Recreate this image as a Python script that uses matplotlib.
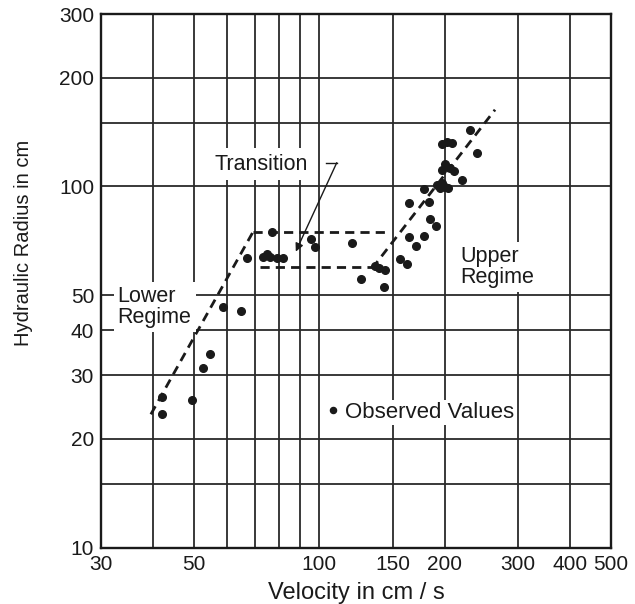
import matplotlib
matplotlib.use("Agg")
import matplotlib.pyplot as plt
from matplotlib.ticker import FixedLocator, FixedFormatter, NullLocator

plt.rcParams['font.family'] = ['Liberation Sans', 'DejaVu Sans']

# Observed values (velocity cm/s, hydraulic radius cm)
velocity = [41.9, 41.9, 49.5, 52.6, 54.8, 58.9, 65.0, 67.1, 77.0, 73.5,
            74.9, 76.3, 79.1, 82.0, 95.6, 97.7, 119.7, 126.0, 136.1, 139.4,
            143.9, 143.3, 156.2, 162.7, 164.5, 170.7, 178.7, 164.5, 184.4, 190.6,
            178.7, 183.4, 191.4, 196.7, 200.3, 204.0, 194.9, 219.7, 196.7, 200.3,
            206.0, 210.5, 196.7, 202.2, 207.9, 230.0, 238.6]
radius = [23.4, 26.2, 25.6, 31.4, 34.3, 46.3, 45.2, 63.2, 74.7, 63.9,
          64.9, 63.6, 63.2, 63.2, 71.4, 67.8, 69.6, 55.4, 60.2, 59.3,
          58.7, 52.8, 62.8, 61.0, 72.3, 68.5, 72.9, 89.8, 81.1, 77.9,
          98.2, 90.7, 100.9, 102.0, 99.4, 98.8, 98.8, 104.1, 111.0, 115.3,
          112.2, 110.5, 130.8, 133.0, 132.1, 143.2, 124.0]

# Regime boundaries
lower_v = [39.5, 69.5]
lower_r = [23.4, 75.0]
trans_top_v = [69.5, 148.0]
trans_top_r = [75.0, 75.0]
trans_bot_v = [72.0, 135.0]
trans_bot_r = [60.0, 60.0]
upper_v = [134.0, 264.0]
upper_r = [59.3, 163.0]

# Axis ticks / grid
x_ticks = [30, 40, 50, 60, 70, 80, 90, 100, 150, 200, 300, 400, 500]
x_labels = ['30', '', '50', '', '', '', '', '100', '150', '200', '300', '400', '500']
y_ticks = [10, 15, 20, 30, 40, 50, 100, 150, 200, 300]
y_labels = ['10', '', '20', '30', '40', '50', '100', '', '200', '300']

ink = '#1a1a1a'

fig = plt.figure(figsize=(6.35, 6.04), dpi=100)
ax = fig.add_axes([0.1591, 0.0932, 0.8027, 0.8836])
ax.set_xscale('log')
ax.set_yscale('log')
ax.set_xlim(30, 500)
ax.set_ylim(10, 300)

ax.xaxis.set_major_locator(FixedLocator(x_ticks))
ax.xaxis.set_major_formatter(FixedFormatter(x_labels))
ax.yaxis.set_major_locator(FixedLocator(y_ticks))
ax.yaxis.set_major_formatter(FixedFormatter(y_labels))
ax.xaxis.set_minor_locator(NullLocator())
ax.yaxis.set_minor_locator(NullLocator())
ax.tick_params(length=0, labelsize=15, colors=ink, pad=5)

ax.set_axisbelow(True)
ax.grid(True, color='#2a2a2a', lw=1.3)
for s in ax.spines.values():
    s.set_linewidth(1.7)
    s.set_color(ink)

# Dashed regime lines
dash = dict(color=ink, lw=2, dashes=(3.3, 2.2))
ax.plot(lower_v, lower_r, **dash)
ax.plot(trans_top_v, trans_top_r, **dash)
ax.plot(trans_bot_v, trans_bot_r, **dash)
ax.plot(upper_v, upper_r, **dash)

# Observed points
ax.plot(velocity, radius, 'o', color=ink, ms=5.5, zorder=4, label='Observed Values')

# Labels
box = dict(facecolor='white', edgecolor='none', pad=3)
ax.text(32.9, 46.4, 'Lower\nRegime', fontsize=15.5, color=ink, ha='left', va='center',
        linespacing=1.0, bbox=box)
ax.text(217.6, 59.8, 'Upper\nRegime', fontsize=15.5, color=ink, ha='left', va='center',
        linespacing=1.0, bbox=box)
ax.text(72.8, 115.3, 'Transition', fontsize=15.5, color=ink, ha='center', va='center',
        bbox=dict(facecolor='white', edgecolor='none', pad=4))
ax.plot([103.9, 110.2], [116.3, 116.3], color=ink, lw=1)
ax.annotate('', xy=(87.9, 66.0), xytext=(110.2, 116.3),
            arrowprops=dict(arrowstyle='-|>', color=ink, lw=1, mutation_scale=12,
                            shrinkA=0, shrinkB=0))

leg = ax.legend(loc='center left', bbox_to_anchor=(0.4375, 0.253), fontsize=16,
                frameon=True, fancybox=False, borderpad=0.1, handlelength=0.6,
                handletextpad=0.25, borderaxespad=0, markerscale=0.8)
leg.get_frame().set_facecolor('white')
leg.get_frame().set_edgecolor('none')
leg.get_frame().set_alpha(1)
for t in leg.get_texts():
    t.set_color(ink)

ax.set_xlabel('Velocity in cm / s', fontsize=17, color=ink, labelpad=6)
ax.set_ylabel('Hydraulic Radius in cm', fontsize=14.5, color=ink)
ax.yaxis.set_label_coords(-0.133, 0.571)

fig.savefig('out.png', dpi=100)
